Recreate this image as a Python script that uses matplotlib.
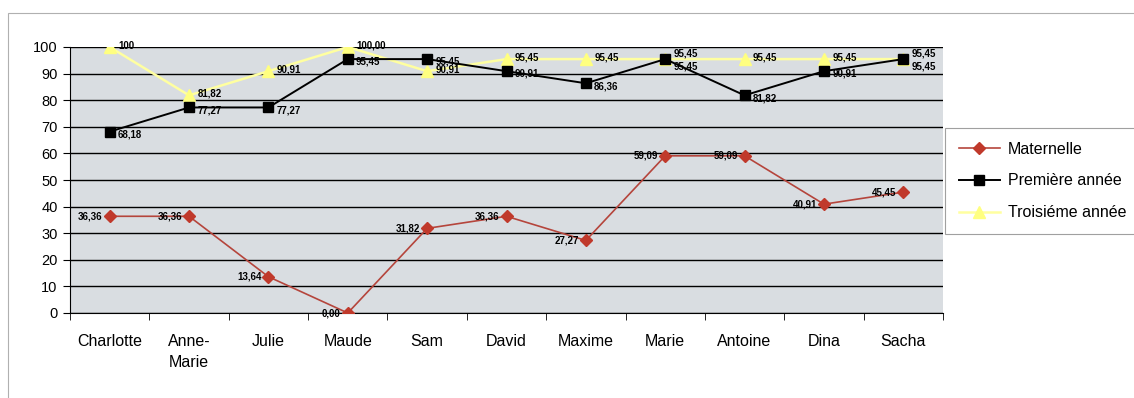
import matplotlib.pyplot as plt
import numpy as np
from matplotlib.patches import Rectangle

plt.rcParams['font.family'] = ['Liberation Sans', 'DejaVu Sans']

eleves = ['Charlotte', 'Anne-\nMarie', 'Julie', 'Maude', 'Sam', 'David',
          'Maxime', 'Marie', 'Antoine', 'Dina', 'Sacha']
maternelle = [36.36, 36.36, 13.64, 0.00, 31.82, 36.36, 27.27, 59.09, 59.09, 40.91, 45.45]
premiere = [68.18, 77.27, 77.27, 95.45, 95.45, 90.91, 86.36, 95.45, 81.82, 90.91, 95.45]
troisieme = [100, 81.82, 90.91, 100.00, 90.91, 95.45, 95.45, 95.45, 95.45, 95.45, 95.45]
etiquettes_troisieme = ['100', '81,82', '90,91', '100,00', '90,91', '95,45',
                        '95,45', '95,45', '95,45', '95,45', '95,45']


def fr(v):
    return '{:.2f}'.format(v).replace('.', ',')


fig = plt.figure(figsize=(11.34, 3.98), dpi=100)
ax = fig.add_axes([70 / 1134, 1 - 313 / 398, 873 / 1134, 266 / 398])
ax.set_facecolor('#d9dde1')

x = np.arange(len(eleves))

ax.plot(x, troisieme, color='#ffffa0', lw=1.8, marker='^', ms=9,
        mfc='#ffff80', mec='#ffff80', label='Troisiéme année', zorder=3)
ax.plot(x, premiere, color='black', lw=1.4, marker='s', ms=7,
        mfc='black', mec='black', label='Première année', zorder=4)
ax.plot(x, maternelle, color='#b5453c', lw=1.2, marker='D', ms=6,
        mfc='#c0392b', mec='#c0392b', label='Maternelle', zorder=5)

lab = dict(fontsize=7, fontweight='bold', color='black', zorder=6)
for xi, v in zip(x, maternelle):
    ax.annotate(fr(v), (xi, v), xytext=(-5, 0), textcoords='offset points',
                ha='right', va='center', **lab)
for xi, v, w in zip(x, premiere, troisieme):
    dy = -5 if abs(v - w) < 1 else -2
    ax.annotate(fr(v), (xi, v), xytext=(6, dy), textcoords='offset points',
                ha='left', va='center', **lab)
for xi, v, t, p in zip(x, troisieme, etiquettes_troisieme, premiere):
    dy = 4 if abs(v - p) < 1 else 1
    ax.annotate(t, (xi, v), xytext=(6, dy), textcoords='offset points',
                ha='left', va='center', **lab)

ax.set_xlim(-0.5, len(eleves) - 0.5)
ax.set_ylim(0, 100)
ax.set_yticks(np.arange(0, 101, 10))
ax.yaxis.grid(True, color='black', lw=1.0)
ax.set_axisbelow(True)
ax.set_xticks(x)
ax.set_xticklabels(eleves, fontsize=11.5, linespacing=1.55)
ax.set_xticks(np.arange(-0.5, len(eleves), 1), minor=True)
ax.tick_params(axis='x', which='major', length=0, pad=15)
ax.tick_params(axis='x', which='minor', length=5, direction='out', color='black')
ax.tick_params(axis='y', length=5, direction='out', labelsize=10.5, pad=4)
for s in ['top', 'right']:
    ax.spines[s].set_visible(False)
ax.spines['left'].set_color('black')
ax.spines['bottom'].set_color('black')

handles, labels = ax.get_legend_handles_labels()
leg = fig.legend(handles[::-1], labels[::-1], loc='upper left',
                 bbox_to_anchor=(945 / 1134, 1 - 128 / 398), fontsize=11.5,
                 frameon=True, fancybox=False, edgecolor='#888888',
                 handlelength=2.6, handletextpad=0.5, labelspacing=1.05,
                 borderpad=0.85, borderaxespad=0)
leg.get_frame().set_linewidth(0.8)

# chart area frame
fig.patches.append(Rectangle((8 / 1134, -0.05), 1.1, 1 - 13 / 398 + 0.05,
                             transform=fig.transFigure, fill=False,
                             edgecolor='#b0b0b0', lw=0.8))

fig.savefig('out.png', dpi=100)
